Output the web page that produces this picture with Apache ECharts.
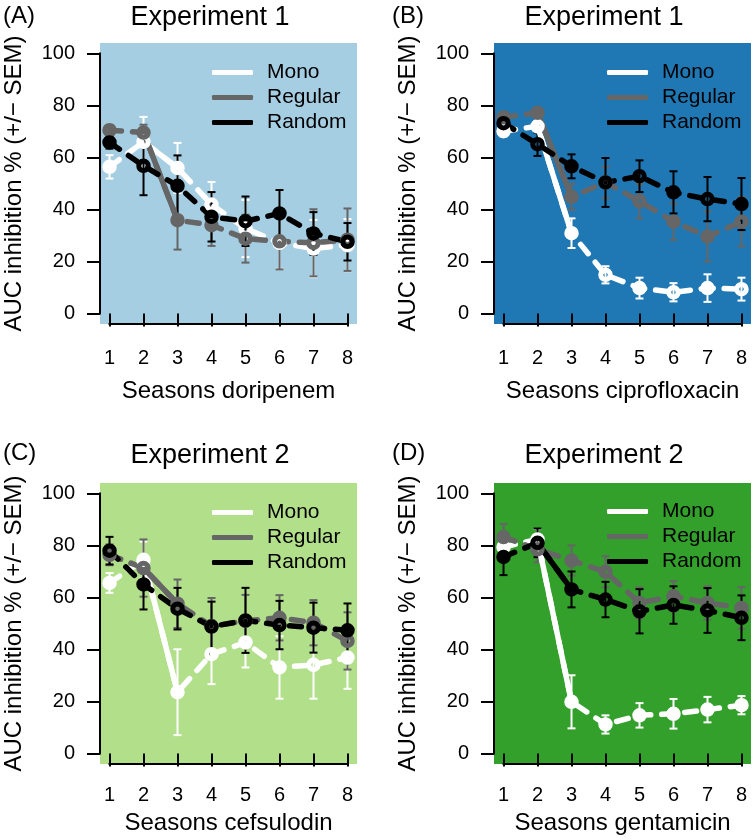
<!DOCTYPE html>
<html><head><meta charset="utf-8">
<script src="https://cdn.jsdelivr.net/npm/echarts@6/dist/echarts.min.js"></script>
<style>html,body{margin:0;padding:0;background:#fff}#c{width:753px;height:840px}</style>
</head><body><div id="c"></div>
<script>
// ---- data ----
const seasons = [1, 2, 3, 4, 5, 6, 7, 8];
const yTicks = [0, 20, 40, 60, 80, 100];
const seriesNames = ['Mono', 'Regular', 'Random'];
const panelTags = ['(A)', '(B)', '(C)', '(D)'];
const panelTitles = ['Experiment 1', 'Experiment 1', 'Experiment 2', 'Experiment 2'];
const xNames = ['Seasons doripenem', 'Seasons ciprofloxacin', 'Seasons cefsulodin', 'Seasons gentamicin'];
const yName = 'AUC inhibition % (+/\u2212 SEM)';

// Panel A (doripenem)
const monoA = [56.4, 66, 56, 41.9, 32.7, 27.2, 25, 26.3];
const monoAErr = [4.5, 9.6, 9.6, 8.7, 11, 10, 11, 10];
const regA = [70.5, 69.6, 35.9, 34, 28.8, 27.8, 27.2, 28.4];
const regAErr = [2, 3, 11.3, 8, 9.2, 10.8, 12.9, 12];
const randA = [65.8, 56.8, 49.1, 37.2, 35.5, 38.5, 30.8, 27.6];
const randAErr = [2.4, 11.3, 11.7, 9.5, 9.5, 9, 8.2, 7.2];
// Panel B (ciprofloxacin)
const monoB = [70.1, 72, 30.9, 14.9, 9.8, 8.2, 9.8, 9.4];
const monoBErr = [2, 2, 5.7, 3.3, 4, 3.5, 5.3, 4.4];
const regB = [75.5, 77.2, 44.9, 50.4, 43.2, 35.3, 29.6, 35.3];
const regBErr = [1.5, 1.5, 5, 6, 6.6, 7, 9.6, 9.5];
const randB = [73.2, 65.1, 56.6, 50.4, 52.8, 46.6, 44, 42.1];
const randBErr = [1.5, 4.5, 4.6, 9.4, 6.1, 8.1, 8.5, 10];
// Panel C (cefsulodin)
const monoC = [65.6, 74.5, 23.6, 38.2, 42.7, 33.1, 34.1, 36.9];
const monoCErr = [3.8, 7, 16.5, 11.5, 9.6, 12, 13, 12];
const regC = [76.4, 71.3, 57.6, 49, 51, 52.2, 50.3, 43.3];
const regCErr = [4, 11, 9.3, 10.8, 10, 8.7, 8.7, 11];
const randC = [78, 65, 55.7, 48.8, 51.2, 49.4, 48.4, 47.4];
const randCErr = [5.3, 9.6, 8, 9.6, 12.5, 9.3, 9.6, 10.3];
// Panel D (gentamicin)
const monoD = [79.4, 82.3, 19.9, 11.2, 14.7, 15.3, 16.9, 18.6];
const monoDErr = [4, 4, 10.2, 3.5, 4.7, 5.7, 4.9, 3.5];
const regD = [83.2, 78.5, 74.2, 69.9, 57.9, 60.5, 57.9, 56];
const regDErr = [5, 5, 5.8, 6, 6, 5.8, 6.4, 8];
const randD = [75.6, 81, 63.1, 59.2, 54.7, 57.1, 55, 52.2];
const randDErr = [7, 5.5, 6.9, 6.8, 8.5, 7.2, 8.6, 8.6];

// segments season 2 -> 3 drawn solid (switch)
const solidSwitch = [['Mono', 'Regular'], ['Mono', 'Regular'], ['Mono', 'Regular'], ['Mono', 'Random']];

const panelValues = [
  [[monoA, monoAErr], [regA, regAErr], [randA, randAErr]],
  [[monoB, monoBErr], [regB, regBErr], [randB, randBErr]],
  [[monoC, monoCErr], [regC, regCErr], [randC, randCErr]],
  [[monoD, monoDErr], [regD, regDErr], [randD, randDErr]]
];

// ---- styling / layout ----
const FONT = "'Liberation Sans', Arial, Helvetica, sans-serif";
const bgColors = ['#A6CEE3', '#1F78B4', '#B2DF8A', '#33A02C'];
const seriesColors = ['#FFFFFF', '#666666', '#000000'];
const gridPos = [
  {left: 100, top: 43}, {left: 494, top: 43},
  {left: 100, top: 483}, {left: 494, top: 483}
];
const GW = 257, GH = 281;
const xMin = 0.72, xMax = 8.28, yMin = -4, yMax = 104;
const titlePos = [[210, 18], [604, 18], [210, 456], [604, 456]];
const tagPos = [[3, 16], [392, 16], [3, 453], [392, 453]];
const legendPos = [[207, 57], [602, 57], [207, 497], [602, 496]];
const xLabelMargin = [24, 24, 21, 21];
const xNameGap = [55, 55, 47, 47];

const grids = [], xAxes = [], yAxes = [], series = [], legends = [], graphics = [];

for (let p = 0; p < 4; p++) {
  grids.push({left: gridPos[p].left, top: gridPos[p].top, width: GW, height: GH,
    show: true, backgroundColor: bgColors[p], borderWidth: 0});
  xAxes.push({type: 'value', gridIndex: p, min: xMin, max: xMax,
    axisLine: {show: false}, splitLine: {show: false},
    axisTick: {show: true, customValues: seasons, length: 13, lineStyle: {color: '#000', width: 2}},
    axisLabel: {customValues: seasons, fontSize: 20, color: '#000', fontFamily: FONT, margin: xLabelMargin[p]},
    name: xNames[p], nameLocation: 'middle', nameGap: xNameGap[p],
    nameTextStyle: {fontSize: 24, color: '#000', fontFamily: FONT}});
  yAxes.push({type: 'value', gridIndex: p, min: yMin, max: yMax,
    axisLine: {show: false}, splitLine: {show: false},
    axisTick: {show: true, customValues: yTicks, length: 13, lineStyle: {color: '#000', width: 2}},
    axisLabel: {customValues: yTicks, fontSize: 20, color: '#000', fontFamily: FONT, margin: 25},
    name: yName, nameLocation: 'middle', nameGap: 74,
    nameTextStyle: {fontSize: 24, color: '#000', fontFamily: FONT}});

  // axis lines (from first to last tick) in R style
  series.push({type: 'custom', xAxisIndex: p, yAxisIndex: p, clip: false, silent: true, z: 5,
    data: [0],
    renderItem: function (params, api) {
      const a0 = api.coord([xMin, yTicks[0]]), a1 = api.coord([xMin, yTicks[yTicks.length - 1]]);
      const b0 = api.coord([seasons[0], yMin]), b1 = api.coord([seasons[seasons.length - 1], yMin]);
      return {type: 'group', children: [
        {type: 'line', shape: {x1: a0[0], y1: a0[1] + 1, x2: a1[0], y2: a1[1] - 1}, style: {stroke: '#000', lineWidth: 2}},
        {type: 'line', shape: {x1: b0[0] - 1, y1: b0[1], x2: b1[0] + 1, y2: b1[1]}, style: {stroke: '#000', lineWidth: 2}}
      ]};
    }});

  for (let s = 0; s < 3; s++) {
    const vals = panelValues[p][s][0], errs = panelValues[p][s][1];
    const col = seriesColors[s];
    // error bars
    series.push({type: 'custom', name: seriesNames[s] + ' SEM', xAxisIndex: p, yAxisIndex: p,
      clip: false, silent: true,
      data: seasons.map((x, k) => [x, vals[k], errs[k]]),
      renderItem: function (params, api) {
        const x = api.value(0), y = api.value(1), e = api.value(2);
        const t = api.coord([x, y + e]), b = api.coord([x, y - e]);
        const st = {stroke: col, lineWidth: 2};
        return {type: 'group', children: [
          {type: 'line', shape: {x1: t[0], y1: t[1], x2: b[0], y2: b[1]}, style: st},
          {type: 'line', shape: {x1: t[0] - 4, y1: t[1], x2: t[0] + 4, y2: t[1]}, style: st},
          {type: 'line', shape: {x1: b[0] - 4, y1: b[1], x2: b[0] + 4, y2: b[1]}, style: st}
        ]};
      }});
    // dashed line with open circles
    series.push({type: 'line', name: seriesNames[s], xAxisIndex: p, yAxisIndex: p, silent: true,
      data: seasons.map((x, k) => [x, vals[k]]),
      symbol: 'circle', symbolSize: 9.5, showSymbol: true,
      itemStyle: {color: 'rgba(0,0,0,0)', borderColor: col, borderWidth: 5},
      lineStyle: {color: col, width: 5.5, type: [12, 11], cap: 'round'},
      emphasis: {disabled: true}});
    if (solidSwitch[p].indexOf(seriesNames[s]) >= 0) {
      series.push({type: 'line', name: seriesNames[s] + ' switch', xAxisIndex: p, yAxisIndex: p, silent: true,
        data: [[seasons[1], vals[1]], [seasons[2], vals[2]]],
        showSymbol: false, symbol: 'none',
        lineStyle: {color: col, width: 5.5, type: 'solid', cap: 'round'},
        emphasis: {disabled: true}});
    }
  }

  legends.push({left: legendPos[p][0], top: legendPos[p][1], orient: 'vertical',
    selectedMode: false, itemWidth: 41, itemHeight: 5, itemGap: 4,
    textStyle: {fontSize: 21, color: '#000', fontFamily: FONT, lineHeight: 21, padding: [0, 0, 0, 9]},
    data: seriesNames.map((n, s) => ({name: n, icon: 'roundRect',
      itemStyle: {color: seriesColors[s], borderWidth: 0}}))});

  graphics.push({type: 'text', x: titlePos[p][0], y: titlePos[p][1],
    style: {text: panelTitles[p], fontSize: 27, fill: '#000', fontFamily: FONT, align: 'center', verticalAlign: 'middle'}});
  graphics.push({type: 'text', x: tagPos[p][0], y: tagPos[p][1],
    style: {text: panelTags[p], fontSize: 24, fill: '#000', fontFamily: FONT, align: 'left', verticalAlign: 'middle'}});
}

const chart = echarts.init(document.getElementById('c'), null, {renderer: 'canvas'});
chart.setOption({
  animation: false,
  backgroundColor: '#fff',
  textStyle: {fontFamily: FONT},
  grid: grids, xAxis: xAxes, yAxis: yAxes, series: series, legend: legends, graphic: graphics
});
</script></body></html>
